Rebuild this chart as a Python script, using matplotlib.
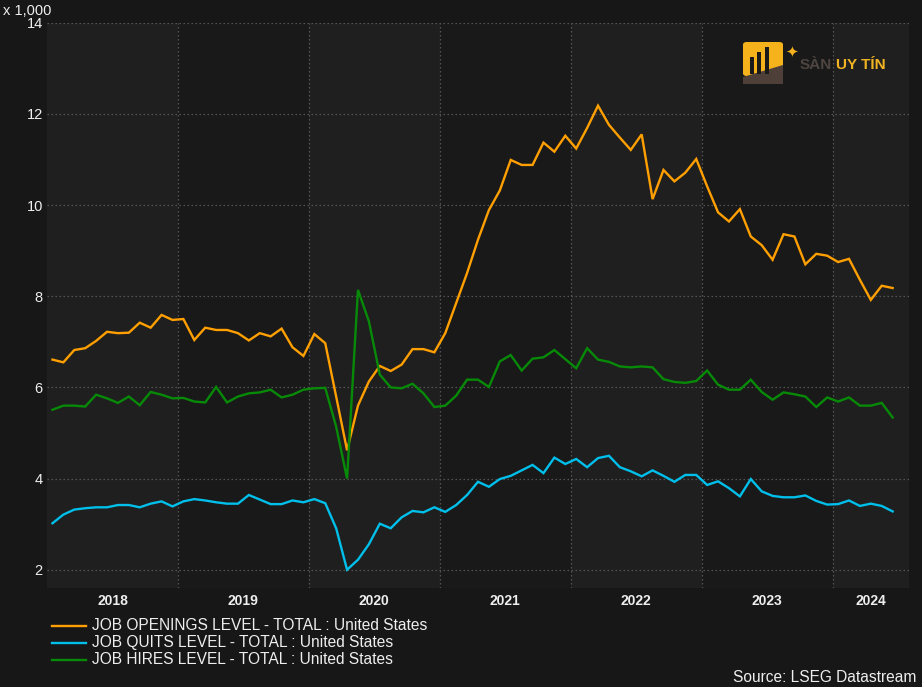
import numpy as np
import matplotlib
matplotlib.use("Agg")
import matplotlib.pyplot as plt
from matplotlib.lines import Line2D
from matplotlib.patches import FancyBboxPatch, Polygon, Rectangle

# Monthly data, Jan 2018 - Jun 2024 (thousands)
years = ["2018", "2019", "2020", "2021", "2022", "2023", "2024"]

openings = [6.61, 6.55, 6.82, 6.86, 7.02, 7.22, 7.19, 7.20, 7.42, 7.31, 7.59, 7.48,
            7.50, 7.04, 7.31, 7.26, 7.26, 7.19, 7.03, 7.19, 7.12, 7.29, 6.88, 6.69,
            7.17, 6.97, 5.80, 4.62, 5.60, 6.13, 6.47, 6.36, 6.50, 6.84, 6.84, 6.77,
            7.19, 7.85, 8.51, 9.24, 9.89, 10.32, 10.99, 10.88, 10.88, 11.37, 11.17, 11.52,
            11.24, 11.69, 12.18, 11.76, 11.48, 11.21, 11.55, 10.13, 10.77, 10.52, 10.71, 11.01,
            10.41, 9.84, 9.64, 9.91, 9.31, 9.12, 8.80, 9.36, 9.31, 8.70, 8.93, 8.89,
            8.75, 8.82, 8.36, 7.92, 8.23, 8.18]

quits = [3.02, 3.21, 3.32, 3.35, 3.37, 3.37, 3.42, 3.42, 3.37, 3.45, 3.50, 3.39,
         3.50, 3.55, 3.52, 3.48, 3.45, 3.45, 3.64, 3.54, 3.44, 3.44, 3.52, 3.48,
         3.55, 3.46, 2.91, 2.00, 2.22, 2.56, 3.01, 2.91, 3.15, 3.29, 3.26, 3.37,
         3.27, 3.42, 3.64, 3.93, 3.82, 3.99, 4.06, 4.18, 4.30, 4.12, 4.46, 4.32,
         4.43, 4.25, 4.45, 4.50, 4.25, 4.16, 4.05, 4.18, 4.06, 3.93, 4.08, 4.08,
         3.86, 3.94, 3.79, 3.61, 3.99, 3.72, 3.62, 3.59, 3.59, 3.63, 3.51, 3.43,
         3.44, 3.52, 3.40, 3.45, 3.40, 3.28]

hires = [5.51, 5.60, 5.60, 5.58, 5.84, 5.76, 5.66, 5.80, 5.61, 5.90, 5.84, 5.76,
         5.77, 5.69, 5.67, 6.01, 5.67, 5.80, 5.87, 5.89, 5.95, 5.78, 5.84, 5.95,
         5.98, 5.99, 5.14, 4.00, 8.14, 7.45, 6.28, 6.00, 5.98, 6.08, 5.87, 5.57,
         5.60, 5.82, 6.17, 6.17, 6.01, 6.57, 6.71, 6.37, 6.63, 6.66, 6.82, 6.62,
         6.42, 6.86, 6.61, 6.56, 6.46, 6.44, 6.46, 6.44, 6.18, 6.12, 6.10, 6.14,
         6.37, 6.06, 5.95, 5.95, 6.17, 5.90, 5.73, 5.89, 5.85, 5.80, 5.57, 5.78,
         5.69, 5.78, 5.60, 5.60, 5.66, 5.34]

labels = ["JOB OPENINGS LEVEL - TOTAL : United States",
          "JOB QUITS LEVEL - TOTAL : United States",
          "JOB HIRES LEVEL - TOTAL : United States"]
colors = ["#ff9f00", "#00bfea", "#078a07"]
y_ticks = [2, 4, 6, 8, 10, 12, 14]

plt.rcParams['font.family'] = ['Liberation Sans', 'DejaVu Sans']

W, H = 922, 687
bg = "#171717"
fig = plt.figure(figsize=(W / 100, H / 100), dpi=100, facecolor=bg)
ax = fig.add_axes([47 / W, 1 - 588 / H, (909 - 47) / W, (588 - 22.7) / H])
ax.set_facecolor("#191919")

n = len(openings)
x = np.arange(n)
x_end = 78.5

# alternating year bands
for i in range(len(years)):
    lo = i * 12 - 0.5
    hi = min(lo + 12, x_end)
    if i % 2 == 0:
        ax.axvspan(lo, hi, color="#1f1f1f", lw=0, zorder=0)

grid_kw = dict(color="#555555", lw=0.9, dashes=(1.2, 2.0), zorder=1)
for yt in y_ticks:
    ax.axhline(yt, **grid_kw)
for i in range(1, len(years)):
    ax.axvline(i * 12 - 0.5, **grid_kw)

for series, c in zip([openings, quits, hires], colors):
    ax.plot(x, series, color=c, lw=1.7, zorder=3, solid_joinstyle="miter")

ax.set_xlim(-0.5, x_end)
ax.set_ylim(1.6, 14)
ax.set_yticks(y_ticks)
ax.set_yticklabels([str(v) for v in y_ticks])
centers = [(i * 12 - 0.5 + min(i * 12 + 11.5, x_end)) / 2 for i in range(len(years))]
ax.set_xticks(centers)
ax.set_xticklabels(years, fontweight="bold")
ax.tick_params(axis="y", length=0, pad=3, labelsize=10.5, labelcolor="#eeeeee")
ax.tick_params(axis="x", length=0, pad=4, labelsize=10, labelcolor="#eeeeee")
for s in ax.spines.values():
    s.set_visible(False)

fig.text(3 / W, 1 - 11 / H, "x 1,000", color="#eeeeee", fontsize=10.5,
         ha="left", va="center")

# legend
for i, (lab, c) in enumerate(zip(labels, colors)):
    yy = 1 - (626 + 17 * i) / H
    fig.add_artist(Line2D([52 / W, 86 / W], [yy, yy], transform=fig.transFigure,
                          color=c, lw=1.7))
    fig.text(92 / W, yy, lab, color="#eeeeee", fontsize=11.2, ha="left", va="center")

fig.text(733 / W, 2 / H, "Source: LSEG Datastream", color="#eeeeee",
         fontsize=11.2, ha="left", va="bottom")

# watermark logo
fig.add_artist(FancyBboxPatch((743 / W, 1 - 76 / H), 40 / W, 34 / H,
                              boxstyle="round,pad=0,rounding_size=0.004",
                              transform=fig.transFigure, color="#f5b21b", lw=0))
fig.add_artist(Polygon([(743 / W, 1 - 84 / H), (783 / W, 1 - 84 / H),
                        (783 / W, 1 - 65 / H), (743 / W, 1 - 77 / H)],
                       closed=True, transform=fig.transFigure,
                       color="#4e3f38", lw=0))
for bx, btop in [(750, 57), (757, 52), (765, 47)]:
    fig.add_artist(Rectangle((bx / W, 1 - 74 / H), 4 / W, (74 - btop) / H,
                             transform=fig.transFigure, color="#1a1a1a", lw=0))
fig.text(792 / W, 1 - 52 / H, "\u2726", color="#f5b21b", fontsize=11,
         ha="center", va="center", family=["DejaVu Sans"])
fig.text(800 / W, 1 - 65 / H, "SÀN", color="#4e4540", fontsize=11,
         fontweight="bold", ha="left", va="center")
fig.text(836 / W, 1 - 65 / H, "UY TÍN", color="#f0b323", fontsize=11,
         fontweight="bold", ha="left", va="center")

fig.savefig("out.png", dpi=100, facecolor=bg)
